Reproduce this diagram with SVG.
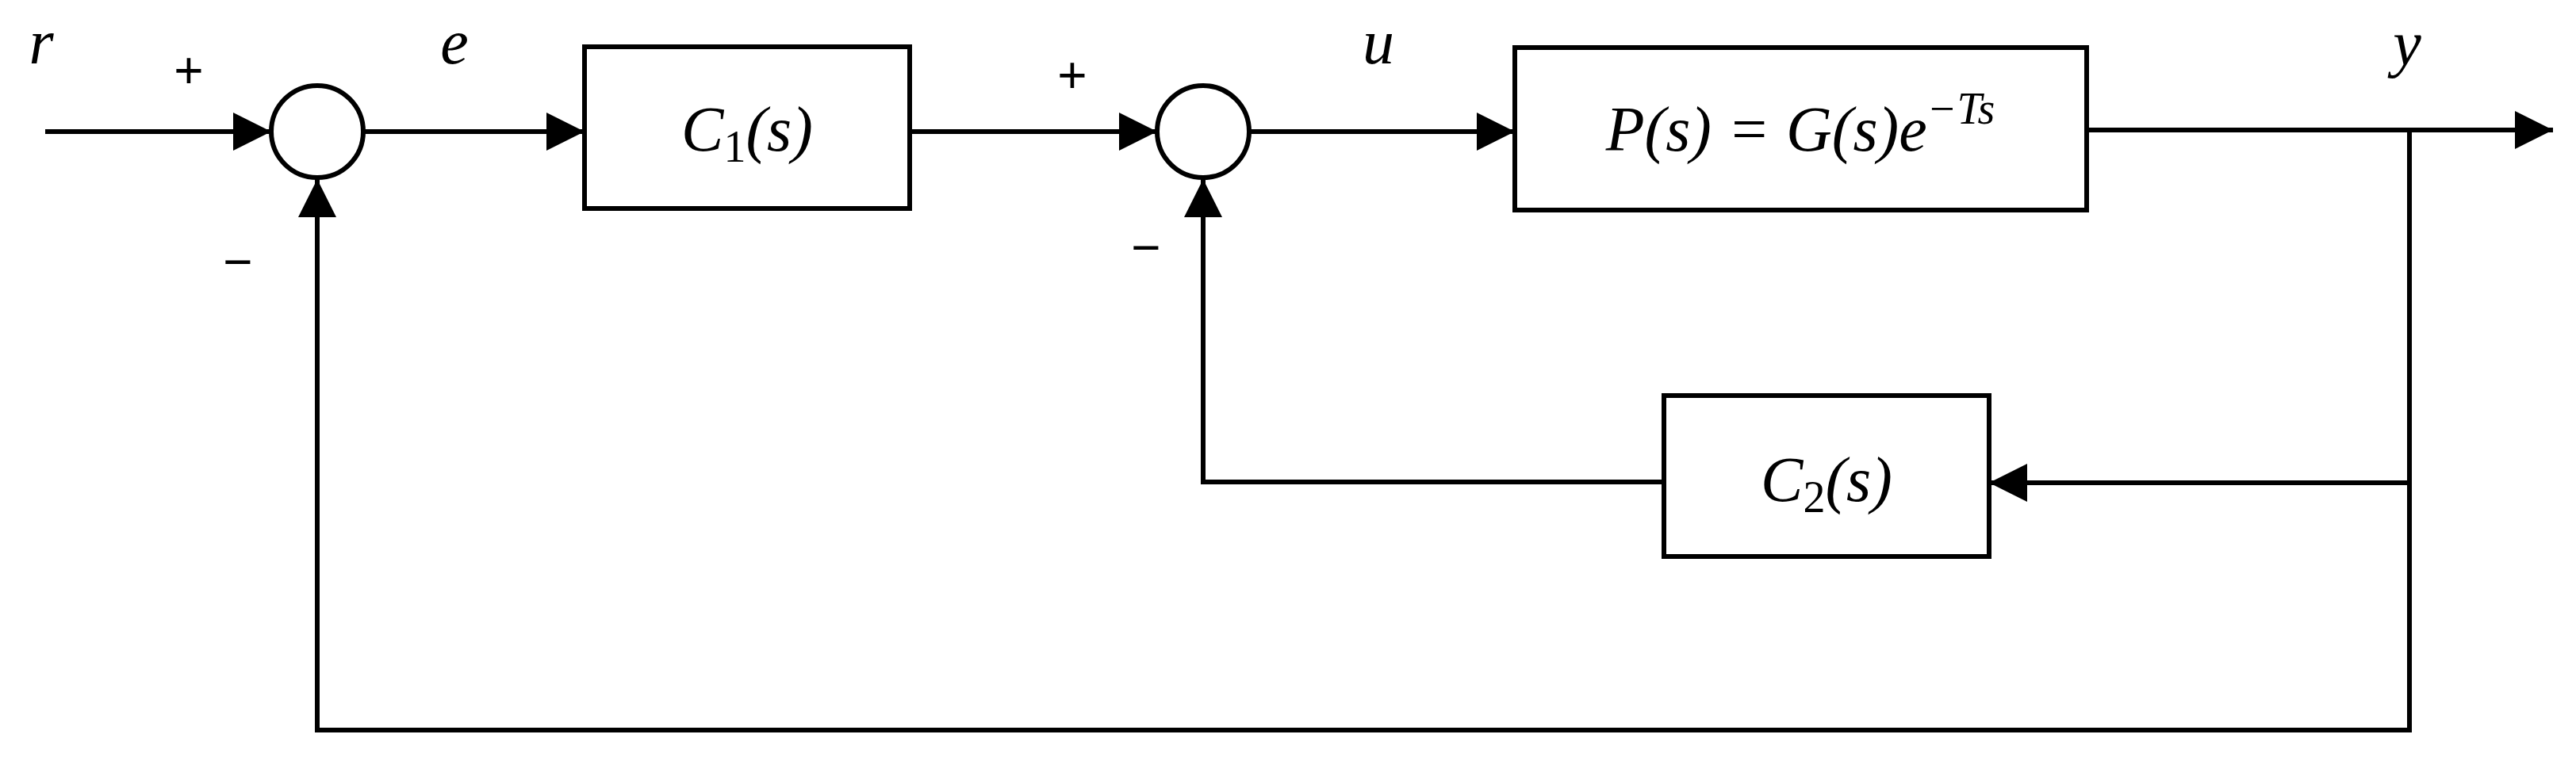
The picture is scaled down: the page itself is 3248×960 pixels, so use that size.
<svg xmlns="http://www.w3.org/2000/svg" width="3248" height="960" viewBox="0 0 3248 960">
<style>
.b{fill:#fff;stroke:#000;stroke-width:6}
.l{fill:none;stroke:#000;stroke-width:6}
.t{font-family:"Liberation Serif",serif;font-style:italic;font-size:80px;fill:#000}
.s{font-family:"Liberation Sans",sans-serif;font-size:64px;fill:#000}
</style>
<defs><marker id="a" markerWidth="10" markerHeight="10" refX="10" refY="5" orient="auto" markerUnits="userSpaceOnUse" viewBox="0 0 10 10" style="overflow:visible"><path d="M0,0 L10,5 L0,10 Z" fill="#000" transform="scale(5)"/></marker>
<marker id="m" viewBox="0 0 10 10" refX="10" refY="5" markerWidth="48" markerHeight="48" markerUnits="userSpaceOnUse" orient="auto"><path d="M0,0 L10,5 L0,10 Z" fill="#000"/></marker></defs>
<g id="connectors">
<path class="l" d="M57,166 H342" marker-end="url(#m)"/>
<path class="l" d="M458,166 H737" marker-end="url(#m)"/>
<path class="l" d="M1147,166 H1459" marker-end="url(#m)"/>
<path class="l" d="M1575,166 H1910" marker-end="url(#m)"/>
<path class="l" d="M2631,164 H3219" marker-end="url(#m)"/>
<path class="l" d="M3038,164 V921 H400 V226" marker-end="url(#m)"/>
<path class="l" d="M3038,609 H2508" marker-end="url(#m)"/>
<path class="l" d="M2098,608 H1517 V226" marker-end="url(#m)"/>
</g>
<g id="sum1"><circle class="b" cx="400" cy="166" r="58"/></g>
<g id="sum2"><circle class="b" cx="1517" cy="166" r="58"/></g>
<g id="C1"><rect class="b" x="737" y="59" width="410" height="204"/><text class="t" x="942" y="190" text-anchor="middle">C<tspan font-style="normal" font-size="56" dy="14">1</tspan><tspan dy="-14">(s)</tspan></text></g>
<g id="P"><rect class="b" x="1910" y="60" width="721" height="205"/><text class="t" x="2270" y="190" text-anchor="middle">P(s) = G(s)e<tspan font-size="56" dy="-34">−Ts</tspan></text></g>
<g id="C2"><rect class="b" x="2098" y="499" width="410" height="203"/><text class="t" x="2303" y="632" text-anchor="middle">C<tspan font-style="normal" font-size="56" dy="14">2</tspan><tspan dy="-14">(s)</tspan></text></g>
<g id="labels">
<text class="t" x="52" y="80" text-anchor="middle">r</text>
<text class="t" x="573" y="80" text-anchor="middle">e</text>
<text class="t" x="1738" y="80" text-anchor="middle">u</text>
<text class="t" x="3035" y="82" text-anchor="middle">y</text>
<text class="s" x="238" y="111" text-anchor="middle">+</text>
<text class="s" x="1352" y="117" text-anchor="middle">+</text>
<text class="s" x="300" y="352" text-anchor="middle">−</text>
<text class="s" x="1445" y="334" text-anchor="middle">−</text>
</g>
</svg>
